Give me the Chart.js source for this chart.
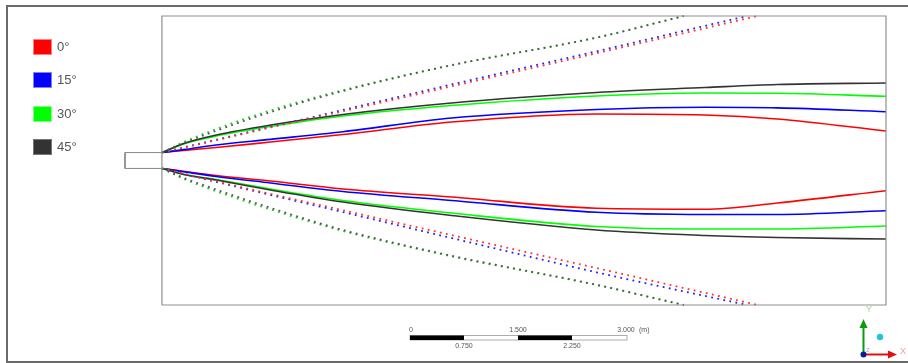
<!DOCTYPE html>
<html>
<head>
<meta charset="utf-8">
<script src="https://cdn.jsdelivr.net/npm/chart.js@4/dist/chart.umd.min.js"></script>
<style>
  html, body { margin: 0; padding: 0; background: #fff; }
  #wrap { position: relative; width: 908px; height: 363px; overflow: hidden; font-family: "Liberation Sans", Arial, sans-serif; }
  #c { position: absolute; left: 0; top: 0; }
  #frame { position: absolute; left: 6px; top: 5px; width: 910px; height: 354px;
           border-top: 2px solid #6a6a6a; border-left: 2px solid #6a6a6a; border-bottom: 2px solid #6a6a6a; }
  .sw { position: absolute; left: 33px; width: 19px; height: 16px; box-sizing: border-box; }
  .lb { position: absolute; left: 57px; font-size: 13px; color: #555; line-height: 16px; }
  #overlay { position: absolute; left: 0; top: 0; }
</style>
</head>
<body>
<div id="wrap">
  <canvas id="c" width="908" height="363"></canvas>
  <div id="frame"></div>
  <div id="legend"></div>
  <svg id="overlay" width="908" height="363" xmlns="http://www.w3.org/2000/svg">
    <!-- scale bar -->
    <g font-family="Liberation Sans, Arial, sans-serif" font-size="7" fill="#555">
      <rect x="410" y="335.5" width="217" height="4.5" fill="#fff" stroke="#999" stroke-width="0.8"/>
      <rect x="410" y="335.5" width="54" height="4.5" fill="#000"/>
      <rect x="518" y="335.5" width="54" height="4.5" fill="#000"/>
      <text x="411" y="332" text-anchor="middle">0</text>
      <text x="518" y="332" text-anchor="middle">1.500</text>
      <text x="626" y="332" text-anchor="middle">3.000</text>
      <text x="639" y="332">(m)</text>
      <text x="464" y="348" text-anchor="middle">0.750</text>
      <text x="572" y="348" text-anchor="middle">2.250</text>
    </g>
    <!-- axis triad -->
    <g font-family="Liberation Sans, Arial, sans-serif" font-size="9">
      <line x1="863.5" y1="355" x2="863.5" y2="327" stroke="#0a9a0a" stroke-width="2"/>
      <polygon points="863.5,319 859.5,328 867.5,328" fill="#0a9a0a"/>
      <line x1="863" y1="354.5" x2="889" y2="354.5" stroke="#e01010" stroke-width="2"/>
      <polygon points="897,354.5 888,350.5 888,358.5" fill="#e01010"/>
      <circle cx="863.5" cy="354.5" r="3" fill="#0a1aa0"/>
      <circle cx="880" cy="337" r="3.2" fill="#22c8d0"/>
      <text x="866" y="312" fill="#9ad99a">Y</text>
      <text x="900" y="354" fill="#ff9a9a">X</text>
      <text x="866" y="352" fill="#9aa8e8" font-size="6">Z</text>
    </g>
  </svg>
</div>
<script>
// ---------- data (metres) ----------
const seriesNames = ["0°", "15°", "30°", "45°"];
const seriesColors = ["#ff0000", "#0000ff", "#00ff00", "#333333"];

// solid boundary lines
const xSolid = [0, 0.3, 0.75, 1.5, 2.5, 4, 6, 7.5, 8.5, 10];
const upper0  = [0.11, 0.140, 0.180, 0.256, 0.360, 0.533, 0.644, 0.630, 0.574, 0.408];
const upper15 = [0.11, 0.150, 0.215, 0.293, 0.399, 0.588, 0.706, 0.736, 0.729, 0.675];
const upper30 = [0.11, 0.230, 0.339, 0.471, 0.616, 0.761, 0.893, 0.934, 0.931, 0.889];
const upper45 = [0.11, 0.235, 0.353, 0.491, 0.637, 0.796, 0.941, 1.010, 1.052, 1.073];
const lower0  = [-0.11, -0.150, -0.208, -0.284, -0.394, -0.505, -0.661, -0.675, -0.588, -0.418];
const lower15 = [-0.11, -0.155, -0.221, -0.311, -0.429, -0.554, -0.717, -0.747, -0.747, -0.695];
const lower30 = [-0.11, -0.190, -0.263, -0.394, -0.553, -0.727, -0.913, -0.948, -0.948, -0.907];
const lower45 = [-0.11, -0.195, -0.270, -0.408, -0.574, -0.761, -0.962, -1.038, -1.066, -1.087];

// dotted lines (each ends where it leaves the domain)
const xDot0  = [0, 0.75, 1.5, 2.5, 4, 6, 8.23];
const xDot15 = [0, 0.75, 1.5, 2.5, 4, 6, 8.08];
const xDot30 = [0, 0.3, 0.75, 1.5, 2.5, 4, 6, 7.2];
const xDot45 = [0, 0.3, 0.75, 1.5, 2.5, 4, 6, 7.21];
const dotUpper0  = [0.11, 0.280, 0.457, 0.682, 1.027, 1.484, 2.0];
const dotUpper15 = [0.11, 0.287, 0.465, 0.699, 1.052, 1.511, 2.0];
const dotUpper30 = [0.11, 0.255, 0.436, 0.693, 0.974, 1.322, 1.702, 2.0];
const dotUpper45 = [0.11, 0.240, 0.412, 0.670, 0.962, 1.318, 1.700, 2.0];
const dotLower0  = [-0.11, -0.288, -0.462, -0.689, -1.033, -1.488, -2.0];
const dotLower15 = [-0.11, -0.296, -0.476, -0.714, -1.073, -1.547, -2.0];
const dotLower30 = [-0.11, -0.255, -0.426, -0.678, -0.976, -1.327, -1.723, -2.0];
const dotLower45 = [-0.11, -0.240, -0.402, -0.655, -0.962, -1.318, -1.719, -2.0];

// geometry outlines
const domainX = [0, 0, 10, 10, 0];
const domainY = [-2, 2, 2, -2, -2];
const nozzleX = [0, -0.51, -0.51, 0];
const nozzleY = [0.11, 0.11, -0.11, -0.11];

// ---------- build ----------
const pts = (xs, ys) => xs.map((x, i) => ({ x: x, y: ys[i] }));
const solid = (xs, ys, color) => ({
  data: pts(xs, ys), borderColor: color, borderWidth: 1.6, showLine: true,
  pointRadius: 0, tension: 0.4, cubicInterpolationMode: 'monotone', fill: false, clip: 4
});
const dotted = (xs, ys, color) => ({
  data: pts(xs, ys), borderColor: color, borderWidth: 1.8, showLine: true,
  borderDash: [1.8, 4.4], borderCapStyle: 'butt',
  pointRadius: 0, tension: 0.4, cubicInterpolationMode: 'monotone', fill: false, clip: 2
});
const outline = (xs, ys, color, w) => ({
  data: pts(xs, ys), borderColor: color, borderWidth: w, showLine: true,
  pointRadius: 0, tension: 0, fill: false, clip: false
});

const datasets = [
  outline(domainX, domainY, "#8f8f8f", 1.2),
  outline(nozzleX, nozzleY, "#8a8a8a", 1),
  dotted(xDot45, dotUpper45, "#555555"),
  dotted(xDot45, dotLower45, "#555555"),
  dotted(xDot30, dotUpper30, "#22cc22"),
  dotted(xDot30, dotLower30, "#22cc22"),
  dotted(xDot0, dotUpper0, "#ff3030"),
  dotted(xDot0, dotLower0, "#ff3030"),
  dotted(xDot15, dotUpper15, "#2020ff"),
  dotted(xDot15, dotLower15, "#2020ff"),
  solid(xSolid, upper45, seriesColors[3]),
  solid(xSolid, lower45, seriesColors[3]),
  solid(xSolid, upper30, seriesColors[2]),
  solid(xSolid, lower30, seriesColors[2]),
  solid(xSolid, upper15, seriesColors[1]),
  solid(xSolid, lower15, seriesColors[1]),
  solid(xSolid, upper0, seriesColors[0]),
  solid(xSolid, lower0, seriesColors[0])
];

new Chart(document.getElementById('c'), {
  type: 'scatter',
  data: { datasets: datasets },
  options: {
    responsive: false,
    animation: false,
    devicePixelRatio: 1,
    layout: { padding: { left: 125, right: 22, top: 16, bottom: 58 } },
    plugins: { legend: { display: false }, tooltip: { enabled: false } },
    scales: {
      x: { type: 'linear', min: -0.51, max: 10, display: false },
      y: { type: 'linear', min: -2, max: 2, display: false }
    }
  }
});

// legend (HTML text)
const legend = document.getElementById('legend');
const swBorder = ["#ff8080", "#8080ff", "#80ff80", "#777777"];
seriesNames.forEach((name, i) => {
  const top = 39 + i * 33.3;
  const sw = document.createElement('div');
  sw.className = 'sw';
  sw.style.top = top + 'px';
  sw.style.background = seriesColors[i];
  sw.style.border = '1px solid ' + swBorder[i];
  legend.appendChild(sw);
  const lb = document.createElement('div');
  lb.className = 'lb';
  lb.style.top = top + 'px';
  lb.textContent = name;
  legend.appendChild(lb);
});
</script>
</body>
</html>
